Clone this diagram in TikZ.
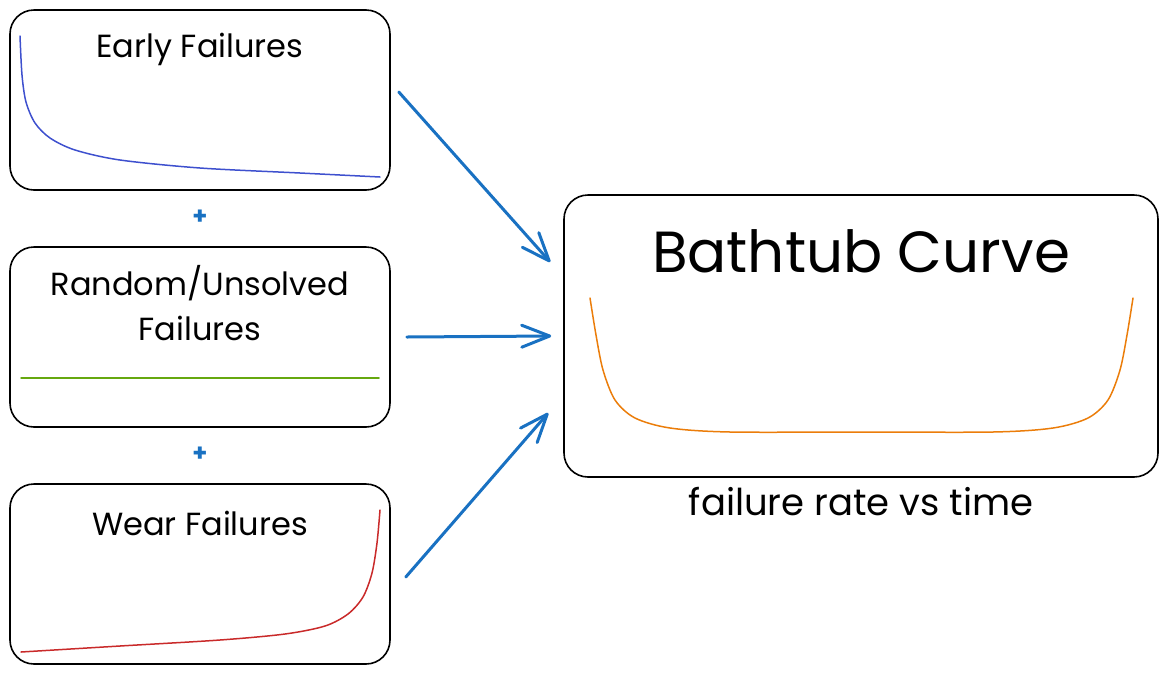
\documentclass[tikz,border=0pt]{standalone}
\usepackage{fontspec}
\setmainfont{Poppins}
\usetikzlibrary{calc,arrows.meta,positioning}

\definecolor{arrowblue}{HTML}{1971C2}
\definecolor{earlyblue}{RGB}{62,80,206}
\definecolor{randomgreen}{HTML}{66A80F}
\definecolor{wearred}{HTML}{C92A2A}
\definecolor{tuborange}{HTML}{EB7D0A}

\begin{document}
\begin{tikzpicture}[x=1pt,y=-1pt,
        panel/.style={draw=black,line width=1.6pt,rounded corners=24pt,
            minimum width=380pt,minimum height=180pt,inner sep=0pt},
        title/.style={anchor=base,align=center,font=\fontsize{32}{45}\selectfont},
        feed/.style={draw=arrowblue,line width=3pt,line cap=round,
            -{Straight Barb[length=28pt,width=22pt,round]}},
        plus/.style={text=arrowblue,font=\bfseries\fontsize{24}{24}\selectfont},
        rate/.style={line width=1.5pt,line cap=round}]
        \useasboundingbox (0,0) rectangle (1169,673);

        % Panels
        \node[panel] (early) at (200,100) {};
        \node[panel] (random) at (200,337) {};
        \node[panel] (wear) at (200,574) {};
        \node[panel,minimum width=594pt,minimum height=282pt] (bathtub) at (861,336) {};

        % Titles
        \node[title] (earlytitle) at (200,57) {Early Failures};
        \node[title] (randomtitle) at (200,340) {Random/Unsolved\\Failures};
        \node[title] (weartitle) at (200,535) {Wear Failures};
        \node[title,font=\fontsize{58}{70}\selectfont] (bathtubtitle) at (861,272) {Bathtub Curve};
        \node[title,font=\fontsize{37}{45}\selectfont] (caption) at (861,515) {failure rate vs time};

        % Plus signs
        \node[plus] (plusa) at (200,217) {+};
        \node[plus] (plusb) at (200,454) {+};

        % Rate curves
        \draw[rate,earlyblue] plot[smooth] coordinates {(20,36) (22,75) (26,102) (35,123)
            (50,138) (75,150) (120,160) (200,168) (300,173) (380,177)};
        \draw[rate,randomgreen] (21,378) -- (379,378);
        \draw[rate,wearred] plot[smooth] coordinates {(21,652) (120,646) (220,640) (285,634)
            (325,626) (348,614) (363,597) (372,573) (377,543) (380,510)};
        \draw[rate,tuborange] plot[smooth] coordinates {(590,298) (596,335) (603,370) (615,400)
            (635,418) (670,428) (730,432) (861,432) (993,432) (1053,428) (1088,418)
            (1108,400) (1120,370) (1127,335) (1133,298)};

        % Arrows into the bathtub
        \draw[feed] ($(early.east)+(8,-8)$) -- ($(bathtub.west)+(-13,-74)$);
        \draw[feed] ($(random.east)+(16,0)$) -- ($(bathtub.west)+(-12,0)$);
        \draw[feed] ($(wear.east)+(15,3)$) -- ($(bathtub.west)+(-15,77)$);
\end{tikzpicture}
\end{document}
